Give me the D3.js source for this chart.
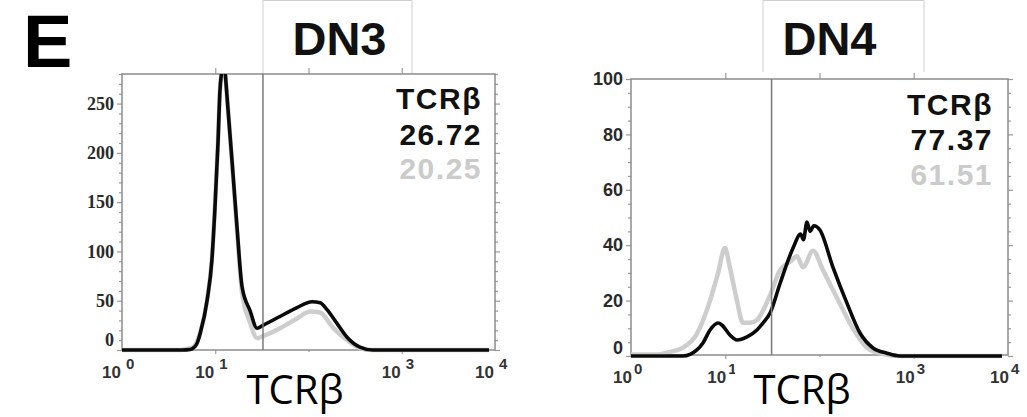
<!DOCTYPE html>
<html><head><meta charset="utf-8">
<script src="https://cdn.jsdelivr.net/npm/d3@7"></script>
<style>body{margin:0;background:#fff}svg{display:block}</style>
</head><body>
<svg id="c" width="1027" height="417"></svg>
<script>
// ---------------- data ----------------
const panelLetter = "E";
const titles = ["DN3", "DN4"];
const markerName = "TCRβ";
const xAxisLabel = "TCRβ";
const xTickExps = [0, 1, 3, 4];          // labelled decades (10^2 is hidden behind the axis title)
const xDecadeTicks = [10, 100, 1000];    // tick marks on top / bottom edge
const dn3YTicks = [0, 50, 100, 150, 200, 250];
const dn4YTicks = [0, 20, 40, 60, 80, 100];
const dn3Stats = ["26.72", "20.25"];   // black, gray
const dn4Stats = ["77.37", "61.51"];
const gates = [32.5, 31];

const dn3BlackX = [1, 4.5, 5.4, 5.8, 6.4, 6.9, 8.2, 9.2, 9.9, 10.7, 11.2, 11.8, 12.3, 12.7, 13.7, 15.1, 17.1, 19.4, 23.6, 28.1, 32.5, 49.4, 75.3, 109, 133, 158, 202, 259, 356, 490, 10000];
const dn3BlackY = [0, 0, 0.5, 2, 7, 17, 51, 91, 142, 210, 261, 285, 300, 285, 244, 193, 125, 64, 40, 22, 25, 34, 43, 49, 48, 41, 27, 13, 3, 0, 0];
const dn3GrayX  = [1, 4.2, 5.2, 5.8, 6.9, 8.2, 9.2, 9.9, 10.7, 11.2, 11.8, 12.3, 12.7, 13.7, 15.1, 17.1, 19.4, 23.6, 28.1, 32.5, 49.4, 75.3, 104, 133, 182, 259, 356, 470, 10000];
const dn3GrayY  = [0, 0, 1.5, 3, 18, 52, 92, 143, 211, 262, 285, 300, 285, 245, 192, 122, 58, 28, 12, 14, 22, 32, 39, 38, 23, 10, 2, 0, 0];

const dn4BlackX = [1, 3.56, 5.0, 5.8, 6.9, 8.4, 9.2, 11.2, 13.3, 17.0, 21.7, 25.1, 29.9, 38, 52.4, 63, 67.6, 73.6, 79.4, 87, 101, 139, 196, 269, 370, 520, 708, 10000];
const dn4BlackY = [0, 0, 2.2, 4.7, 9.4, 11.9, 11.2, 7.6, 5.8, 6.9, 9.4, 11.9, 15.5, 26, 39, 44, 42, 48.4, 45, 47, 45.5, 32, 19, 8.3, 2.9, 1, 0, 0];
const dn4GrayX  = [1, 1.8, 2.59, 3.56, 5.0, 6.9, 8.4, 9.9, 11.2, 13.3, 15.4, 18.3, 21.7, 29.9, 38.1, 48.6, 57.7, 66.8, 85.3, 109, 153, 226, 319, 439, 715, 10000];
const dn4GrayY  = [0.5, 0.5, 1.5, 3, 8, 20, 30, 39, 32, 20, 12, 12, 13, 22, 31, 34, 36, 32, 38, 31, 21, 10, 3, 1, 0, 0];

// ---------------- drawing ----------------
const svg = d3.select("#c");
const GRAY_LINE = "#cdcdcd";

svg.append("text").attr("x", 23).attr("y", 67)
  .attr("font-family", "Liberation Sans, Arial, sans-serif").attr("font-weight", "bold")
  .attr("font-size", 74).attr("fill", "#000").text(panelLetter);

function drawPanel(cfg, idx) {
  const g = svg.append("g");
  const x = d3.scaleLog().domain([1, 10000]).range([cfg.left, cfg.right]);
  const y = d3.scaleLinear().domain([0, cfg.yMax]).range([cfg.y0, cfg.yTop]);

  // title box (open bottom)
  const [bx0, bx1, bBottom] = cfg.box;
  g.append("rect").attr("x", bx0).attr("y", 0).attr("width", bx1 - bx0).attr("height", bBottom).attr("fill", "#fff");
  g.append("path").attr("d", `M${bx0},${bBottom}V0.5H${bx1}V${bBottom}`)
    .attr("fill", "none").attr("stroke", "#cfcfcf").attr("stroke-width", 1);
  g.append("text").attr("x", (bx0 + bx1) / 2 + cfg.titleDx).attr("y", 55).attr("text-anchor", "middle")
    .attr("font-family", "Liberation Sans, Arial, sans-serif").attr("font-weight", "bold")
    .attr("font-size", 47).attr("fill", "#111").text(titles[idx]);

  // axes ticks
  const minor = d3.range(0, cfg.yMax + 0.001, cfg.minorStep).filter(v => !cfg.yTicks.includes(v));
  const tickStyle = sel => { sel.select(".domain").remove(); sel.selectAll("line").attr("stroke", "#9a9a9a").attr("stroke-width", 1.2); };
  g.append("g").attr("transform", `translate(${cfg.left},0)`)
    .call(d3.axisLeft(y).tickValues(minor).tickSize(3).tickFormat("")).call(tickStyle);
  const la = g.append("g").attr("transform", `translate(${cfg.left},0)`)
    .call(d3.axisLeft(y).tickValues(cfg.yTicks).tickSize(5).tickPadding(3)).call(tickStyle);
  la.selectAll("text").attr("font-family", cfg.yFont).attr("font-weight", "bold")
    .attr("font-size", cfg.yFontSize).attr("fill", "#2a2a2a")
    .attr("dy", d => d === 0 ? (cfg.zeroDy) : "0.32em");
  g.append("g").attr("transform", `translate(${cfg.right},0)`)
    .call(d3.axisRight(y).tickValues(minor).tickSize(3).tickFormat("")).call(tickStyle);
  g.append("g").attr("transform", `translate(${cfg.right},0)`)
    .call(d3.axisRight(y).tickValues(cfg.yTicks).tickSize(5).tickFormat("")).call(tickStyle);
  g.append("g").attr("transform", `translate(0,${cfg.yTop})`)
    .call(d3.axisTop(x).tickValues(xDecadeTicks).tickSize(6).tickFormat("")).call(tickStyle);
  g.append("g").attr("transform", `translate(0,${cfg.frameBottom})`)
    .call(d3.axisBottom(x).tickValues(xDecadeTicks).tickSize(4).tickFormat("")).call(tickStyle);

  // frame
  g.append("rect").attr("x", cfg.left).attr("y", cfg.yTop).attr("width", cfg.right - cfg.left)
    .attr("height", cfg.frameBottom - cfg.yTop).attr("fill", "none").attr("stroke", "#8c8c8c").attr("stroke-width", 1.5);

  // curves
  const clipId = "clip" + idx;
  svg.append("defs").append("clipPath").attr("id", clipId).append("rect")
    .attr("x", cfg.left).attr("y", cfg.yTop).attr("width", cfg.right - cfg.left - 6).attr("height", cfg.frameBottom - cfg.yTop + 6);
  const line = d3.line().x(d => x(d[0])).y(d => y(d[1])).curve(d3.curveMonotoneX);
  const cg = g.append("g").attr("clip-path", `url(#${clipId})`);
  cg.append("path").datum(d3.zip(cfg.grayX, cfg.grayY)).attr("d", line)
    .attr("fill", "none").attr("stroke", GRAY_LINE).attr("stroke-width", 4.5).attr("stroke-linejoin", "round");
  cg.append("path").datum(d3.zip(cfg.blackX, cfg.blackY)).attr("d", line)
    .attr("fill", "none").attr("stroke", "#0a0a0a").attr("stroke-width", 3.6).attr("stroke-linejoin", "round");

  // gate line
  g.append("line").attr("x1", x(gates[idx])).attr("x2", x(gates[idx]))
    .attr("y1", cfg.yTop).attr("y2", cfg.frameBottom).attr("stroke", "#7a7a7a").attr("stroke-width", 1.5);

  // annotation
  const ann = g.append("g").attr("font-family", "Liberation Sans, Arial, sans-serif").attr("font-weight", "bold")
    .attr("font-size", 30).attr("letter-spacing", 1.5).attr("text-anchor", "end");
  const lines = [[markerName, "#111"], [cfg.stats[0], "#111"], [cfg.stats[1], "#cbcbcb"]];
  lines.forEach((l, i) => ann.append("text").attr("x", cfg.annRight).attr("y", cfg.annY[i]).attr("fill", l[1]).text(l[0]));

  // x tick labels
  xTickExps.forEach(e => {
    const t = g.append("text").attr("x", x(Math.pow(10, e)) - cfg.xLabShift).attr("y", cfg.xLabY)
      .attr("font-family", "Liberation Sans, Arial, sans-serif").attr("font-weight", "bold")
      .attr("font-size", 17).attr("fill", "#333");
    t.append("tspan").text("10");
    t.append("tspan").attr("dx", cfg.supDx).attr("dy", -9).attr("font-size", 15).text(String(e));
  });

  // white box + axis title
  const [wx0, wx1, wy] = cfg.whiteBox;
  g.append("rect").attr("x", wx0).attr("y", wy).attr("width", wx1 - wx0).attr("height", 417 - wy).attr("fill", "#fff");
  g.append("text").attr("x", cfg.xTitleX).attr("y", cfg.xTitleY).attr("text-anchor", "middle")
    .attr("font-family", "Open Sans, sans-serif").attr("font-size", 40).attr("fill", "#000").text(xAxisLabel);
}

drawPanel({
  left: 122, right: 495, yTop: 74, y0: 350, frameBottom: 350, yMax: 280,
  yTicks: dn3YTicks, minorStep: 10, yFont: "Liberation Serif, Times New Roman, serif", yFontSize: 18, zeroDy: "-0.25em",
  blackX: dn3BlackX, blackY: dn3BlackY, grayX: dn3GrayX, grayY: dn3GrayY,
  box: [263, 412, 74], titleDx: 2, stats: dn3Stats, annRight: 482, annY: [109, 145, 179],
  xLabY: 378, xLabShift: 20, supDx: 5, whiteBox: [229, 367, 352], xTitleX: 295, xTitleY: 404
}, 0);

drawPanel({
  left: 631, right: 1008, yTop: 79, y0: 356, frameBottom: 355, yMax: 100,
  yTicks: dn4YTicks, minorStep: 5, yFont: "Liberation Sans, Arial, sans-serif", yFontSize: 18, zeroDy: "-0.15em",
  blackX: dn4BlackX, blackY: dn4BlackY, grayX: dn4GrayX, grayY: dn4GrayY,
  box: [763, 924, 72], titleDx: -14, stats: dn4Stats, annRight: 993, annY: [115, 150, 185],
  xLabY: 383, xLabShift: 18, supDx: 2, whiteBox: [735, 875, 357], xTitleX: 802, xTitleY: 404
}, 1);
</script>
</body></html>
